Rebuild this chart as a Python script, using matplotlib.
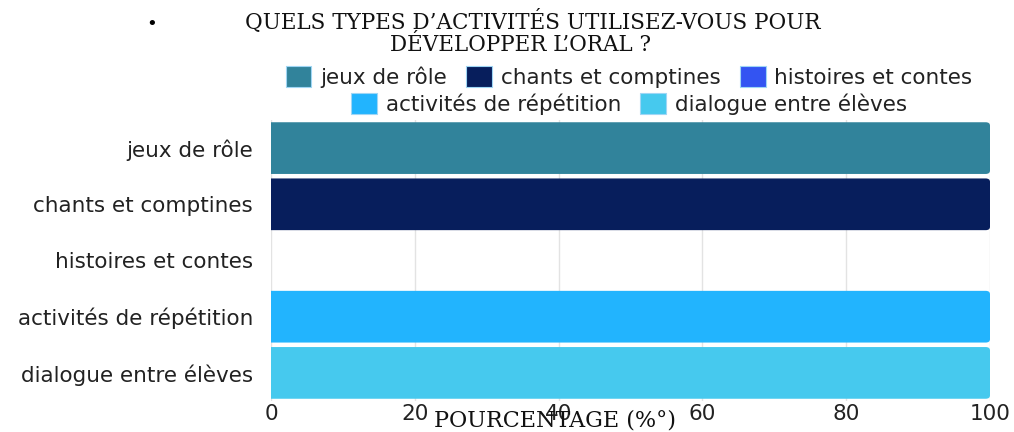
import matplotlib
matplotlib.use("Agg")
import matplotlib.pyplot as plt
from matplotlib.patches import Patch
from matplotlib.path import Path
from matplotlib.patches import PathPatch

categories = ["jeux de rôle", "chants et comptines", "histoires et contes",
              "activités de répétition", "dialogue entre élèves"]
values = [100, 100, 0, 100, 100]
colors = ["#31839B", "#071E5C", "#3354F2", "#22B4FE", "#46C9EE"]
xticks = [0, 20, 40, 60, 80, 100]

SANS = "DejaVu Sans"
SERIF = "DejaVu Serif"
fig = plt.figure(figsize=(10.14, 4.32), dpi=100)
ax = fig.add_axes([271/1014, 1-401/432, (990-271)/1014, (401-120)/432])

ypos = list(range(len(categories)))
bars = ax.barh(ypos, values, height=0.92, color=colors)


def rounded_right(x0, y0, w, h, rx, ry):
    verts = [(x0, y0), (x0 + w - rx, y0), (x0 + w, y0), (x0 + w, y0 + ry),
             (x0 + w, y0 + h - ry), (x0 + w, y0 + h), (x0 + w - rx, y0 + h),
             (x0, y0 + h), (x0, y0)]
    codes = [Path.MOVETO, Path.LINETO, Path.CURVE3, Path.CURVE3,
             Path.LINETO, Path.CURVE3, Path.CURVE3, Path.LINETO, Path.CLOSEPOLY]
    return Path(verts, codes)


for b, c, v in zip(bars, colors, values):
    b.set_visible(False)
    if v <= 0:
        continue
    p = rounded_right(b.get_x(), b.get_y(), b.get_width(), b.get_height(), 0.6, 0.06)
    ax.add_patch(PathPatch(p, facecolor=c, edgecolor="none", zorder=3))

ax.set_xlim(0, 100)
ax.set_ylim(len(categories) - 0.5, -0.5)
ax.set_yticks(ypos)
ax.set_yticklabels(categories, fontsize=15.5, family=SANS, color="#222222")
ax.set_xticks(xticks)
ax.set_xticklabels([str(t) for t in xticks], fontsize=15.5, family=SANS, color="#222222")
ax.tick_params(axis="y", length=0, pad=13)
ax.tick_params(axis="x", length=0, pad=2)
for s in ax.spines.values():
    s.set_visible(False)
ax.grid(axis="x", color="#e3e3e3", linewidth=1, zorder=0)
ax.set_axisbelow(True)

# title
fig.text(152/1014, 1-25/432, "•", fontsize=13, family=SERIF, ha="center", va="center")
fig.text(533/1014, 1-22/432, "QUELS TYPES D’ACTIVITÉS UTILISEZ-VOUS POUR",
         fontsize=15.5, family=SERIF, ha="center", va="center", color="#111111")
fig.text(520/1014, 1-45/432, "DÉVELOPPER L’ORAL ?",
         fontsize=15.5, family=SERIF, ha="center", va="center", color="#111111")

# xlabel
fig.text(555/1014, 1-421/432, "POURCENTAGE (%°)", fontsize=16, family=SERIF,
         ha="center", va="center", color="#111111")

# legend in two rows
handles = [Patch(facecolor=c, edgecolor="#9fd6f5", linewidth=0.8) for c in colors]
kw = dict(frameon=False, prop={"family": SANS, "size": 15.5}, handlelength=1.2,
          handleheight=1.1, handletextpad=0.4, columnspacing=0.9, borderpad=0,
          labelcolor="#222222")
leg1 = fig.legend(handles[:3], categories[:3], ncol=3, loc="center",
                  bbox_to_anchor=(629/1014, 1-77/432), **kw)
leg2 = fig.legend(handles[3:], categories[3:], ncol=2, loc="center",
                  bbox_to_anchor=(629/1014, 1-104/432), **kw)

fig.savefig("out.png", dpi=100)
